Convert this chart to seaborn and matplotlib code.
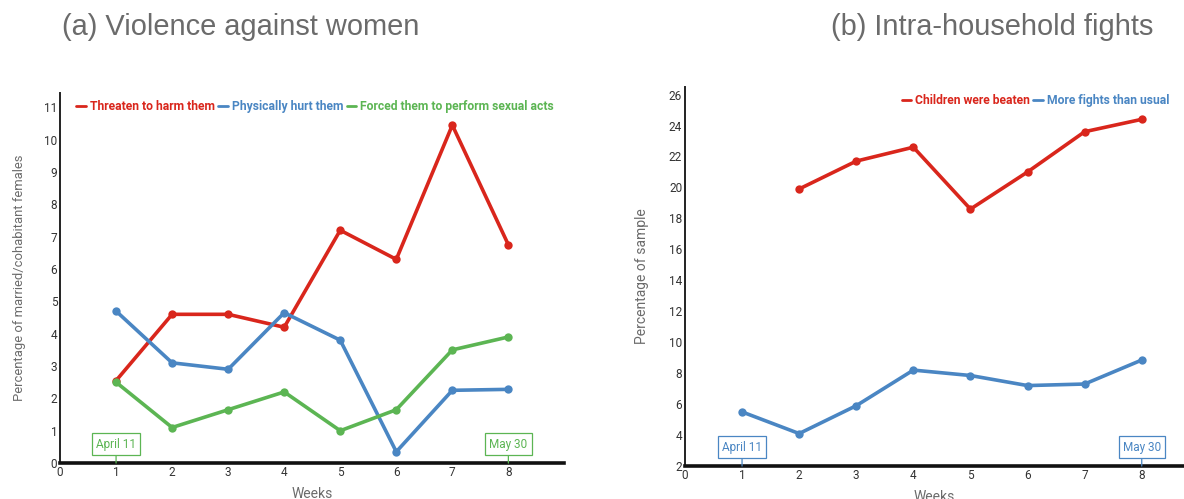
import matplotlib
matplotlib.use("Agg")
from matplotlib import pyplot as plt
from matplotlib.lines import Line2D
import pandas as pd
import seaborn as sns

# data
weeks = [1, 2, 3, 4, 5, 6, 7, 8]
threaten = [2.55, 4.6, 4.6, 4.2, 7.2, 6.3, 10.45, 6.75]
phys_hurt = [4.7, 3.1, 2.9, 4.65, 3.8, 0.35, 2.25, 2.28]
forced = [2.5, 1.1, 1.65, 2.2, 1.0, 1.65, 3.5, 3.9]

weeks_b = [2, 3, 4, 5, 6, 7, 8]
beaten = [19.9, 21.7, 22.6, 18.6, 21.0, 23.6, 24.4]
fights = [5.5, 4.1, 5.9, 8.2, 7.85, 7.2, 7.3, 8.85]

labels_a = ["Threaten to harm them", "Physically hurt them", "Forced them to perform sexual acts"]
labels_b = ["Children were beaten", "More fights than usual"]

RED = "#d9261c"
BLUE = "#4a86c3"
GREEN = "#5cb553"
GRAY = "#6b6b6b"

sns.set_style("white")
plt.rcParams["font.family"] = ["Roboto", "DejaVu Sans"]


def long_df(x, series, names):
    frames = []
    for vals, name in zip(series, names):
        frames.append(pd.DataFrame({"week": x[-len(vals):], "value": vals, "series": name}))
    return pd.concat(frames, ignore_index=True)


def style_axes(ax, ylim, yticks, xmax, ylabel, ysize, ypad):
    ax.set_xlim(0, xmax)
    ax.set_ylim(*ylim)
    ax.set_xticks(range(0, 9))
    ax.set_yticks(yticks)
    ax.tick_params(axis="both", length=0, labelsize=8.5, colors="#333333", pad=2)
    for s in ["top", "right"]:
        ax.spines[s].set_visible(False)
    ax.spines["left"].set_linewidth(1.4)
    ax.spines["left"].set_color("#222222")
    ax.spines["bottom"].set_linewidth(2.6)
    ax.spines["bottom"].set_color("#111111")
    ax.set_xlabel("Weeks", color=GRAY, fontsize=10, labelpad=6)
    ax.set_ylabel(ylabel, color=GRAY, fontsize=ysize, labelpad=ypad)


def date_box(ax, x, text, color, y0):
    ax.annotate(text, xy=(x, y0), xytext=(0, 9), textcoords="offset points",
                ha="center", va="bottom", fontsize=8.5, color=color,
                bbox=dict(boxstyle="square,pad=0.35", fc="white", ec=color, lw=0.9),
                arrowprops=dict(arrowstyle="-", color=color, lw=0.9, shrinkA=0, shrinkB=0))


fig = plt.figure(figsize=(11.84, 4.99), dpi=100)
ax1 = fig.add_axes([0.0507, 0.072, 0.426, 0.742])
ax2 = fig.add_axes([0.5785, 0.066, 0.4215, 0.760])

df_a = long_df(weeks, [threaten, phys_hurt, forced], labels_a)
sns.lineplot(data=df_a, x="week", y="value", hue="series", hue_order=labels_a,
             palette=[RED, BLUE, GREEN], marker="o", markersize=6, markeredgewidth=0,
             linewidth=2.6, legend=False, ax=ax1)
style_axes(ax1, (0, 11.45), range(0, 12), 9.0,
           "Percentage of married/cohabitant females", 9.4, 13)
date_box(ax1, 1, "April 11", GREEN, 0)
date_box(ax1, 8, "May 30", GREEN, 0)

df_b = long_df(weeks, [beaten, fights], labels_b)
sns.lineplot(data=df_b, x="week", y="value", hue="series", hue_order=labels_b,
             palette=[RED, BLUE], marker="o", markersize=6, markeredgewidth=0,
             linewidth=2.6, legend=False, ax=ax2)
style_axes(ax2, (2, 26.5), range(2, 27, 2), 8.74, "Percentage of sample", 10, 14)
date_box(ax2, 1, "April 11", BLUE, 2)
date_box(ax2, 8, "May 30", BLUE, 2)

leg_prop = {"weight": "bold", "size": 8.7, "family": ["Roboto", "DejaVu Sans"]}
h_a = [Line2D([], [], color=c, lw=2) for c in [RED, BLUE, GREEN]]
ax1.legend(h_a, labels_a, ncol=3, loc="upper left", bbox_to_anchor=(0.018, 1.0),
           frameon=False, handlelength=0.8, handletextpad=0.3, columnspacing=0.3,
           labelcolor=[RED, BLUE, GREEN], prop=leg_prop, borderaxespad=0.2)
h_b = [Line2D([], [], color=c, lw=2) for c in [RED, BLUE]]
ax2.legend(h_b, labels_b, ncol=2, loc="upper right", bbox_to_anchor=(0.985, 1.0),
           frameon=False, handlelength=0.8, handletextpad=0.3, columnspacing=0.3,
           labelcolor=[RED, BLUE], prop=leg_prop, borderaxespad=0.2)

fig.text(0.052, 0.945, "(a) Violence against women", fontsize=20.9, color=GRAY,
         family=["Liberation Sans", "DejaVu Sans"], va="center", ha="left")
fig.text(0.974, 0.945, "(b) Intra-household fights", fontsize=20.9, color=GRAY,
         family=["Liberation Sans", "DejaVu Sans"], va="center", ha="right")

fig.savefig("out.png", dpi=100)
